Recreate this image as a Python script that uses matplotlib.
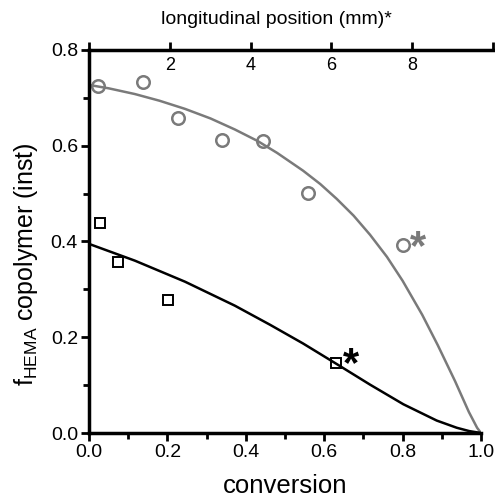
import matplotlib
matplotlib.use("Agg")
import matplotlib.pyplot as plt
from matplotlib.ticker import MultipleLocator, FormatStrFormatter

plt.rcParams['font.family'] = ['Liberation Sans', 'DejaVu Sans']
plt.rcParams['mathtext.fontset'] = 'custom'
plt.rcParams['mathtext.rm'] = 'Liberation Sans'

# measured data (conversion, f_HEMA)
circle_x = [0.023, 0.138, 0.227, 0.339, 0.444, 0.559, 0.801]
circle_y = [0.725, 0.733, 0.658, 0.612, 0.610, 0.501, 0.393]
square_x = [0.028, 0.074, 0.202, 0.630]
square_y = [0.439, 0.357, 0.278, 0.146]

# model curves
gray_x = [0.0, 0.05, 0.117, 0.18, 0.245, 0.31, 0.372, 0.43, 0.48, 0.546, 0.59, 0.632,
          0.675, 0.717, 0.76, 0.80, 0.85, 0.89, 0.934, 0.969, 0.99, 1.0]
gray_y = [0.727, 0.720, 0.708, 0.694, 0.677, 0.657, 0.634, 0.610, 0.585, 0.548, 0.520, 0.489,
          0.454, 0.414, 0.368, 0.318, 0.247, 0.183, 0.108, 0.044, 0.011, 0.0]
black_x = [0.0, 0.117, 0.245, 0.372, 0.462, 0.546, 0.632, 0.717, 0.802, 0.887, 0.938, 0.97, 1.0]
black_y = [0.395, 0.360, 0.316, 0.266, 0.226, 0.187, 0.144, 0.101, 0.060, 0.026, 0.011, 0.004, 0.0]

top_ticks = [0, 2, 4, 6, 8, 10]
top_labels = ['', '2', '4', '6', '8', '']

gray = '#7a7a7a'
W, H = 495, 499
fig = plt.figure(figsize=(W / 100, H / 100), dpi=100)
ax = fig.add_axes([89 / W, (H - 433) / H, 392 / W, 383 / H])

ax.plot(gray_x, gray_y, color=gray, lw=1.8, solid_capstyle='round', solid_joinstyle='round')
ax.plot(black_x, black_y, color='black', lw=1.8, solid_capstyle='round', solid_joinstyle='round')
ax.plot(circle_x, circle_y, 'o', ms=9, mfc='none', mec=gray, mew=1.8, clip_on=False)
ax.plot(square_x, square_y, 's', ms=7.5, mfc='none', mec='black', mew=1.4, clip_on=False)
ax.text(0.839, 0.386, '*', color=gray, fontsize=30, fontweight='bold', ha='center', va='center')
ax.text(0.668, 0.141, '*', color='black', fontsize=30, fontweight='bold', ha='center', va='center')

ax.set_xlim(0, 1)
ax.set_ylim(0, 0.8)
ax.xaxis.set_major_locator(MultipleLocator(0.2))
ax.xaxis.set_minor_locator(MultipleLocator(0.1))
ax.yaxis.set_major_locator(MultipleLocator(0.2))
ax.yaxis.set_minor_locator(MultipleLocator(0.1))
ax.xaxis.set_major_formatter(FormatStrFormatter('%.1f'))
ax.yaxis.set_major_formatter(FormatStrFormatter('%.1f'))
for s in ['top', 'right']:
    ax.spines[s].set_visible(False)
for s in ['left', 'bottom']:
    ax.spines[s].set_linewidth(2.5)
ax.tick_params(which='major', direction='out', length=6, width=2, labelsize=14, pad=2)
ax.tick_params(which='minor', direction='out', length=4, width=2)

ax.set_xlabel('conversion', fontsize=18.5, labelpad=9)
ax.set_ylabel(r'f$_{\mathrm{HEMA}}$ copolymer (inst)', fontsize=18)
ax.yaxis.set_label_coords(-0.125, 0.44)

# top axis: longitudinal position, drawn as a thin axes sitting on y = 0.8
tax = fig.add_axes([89 / W, (H - 50) / H, 404 / W, 0.001])
tax.set_xlim(0, 10)
tax.set_ylim(0, 1)
tax.set_yticks([])
tax.set_xticks(top_ticks)
tax.set_xticklabels(top_labels)
for s in ['top', 'right', 'left']:
    tax.spines[s].set_visible(False)
tax.spines['bottom'].set_linewidth(2.5)
tax.tick_params(axis='x', direction='in', length=6, width=2, labelsize=13, pad=5)
tax.patch.set_visible(False)

fig.text(276 / W, 1 - 19 / H, 'longitudinal position (mm)*', fontsize=14, ha='center', va='center')

fig.savefig('out.png', dpi=100)
